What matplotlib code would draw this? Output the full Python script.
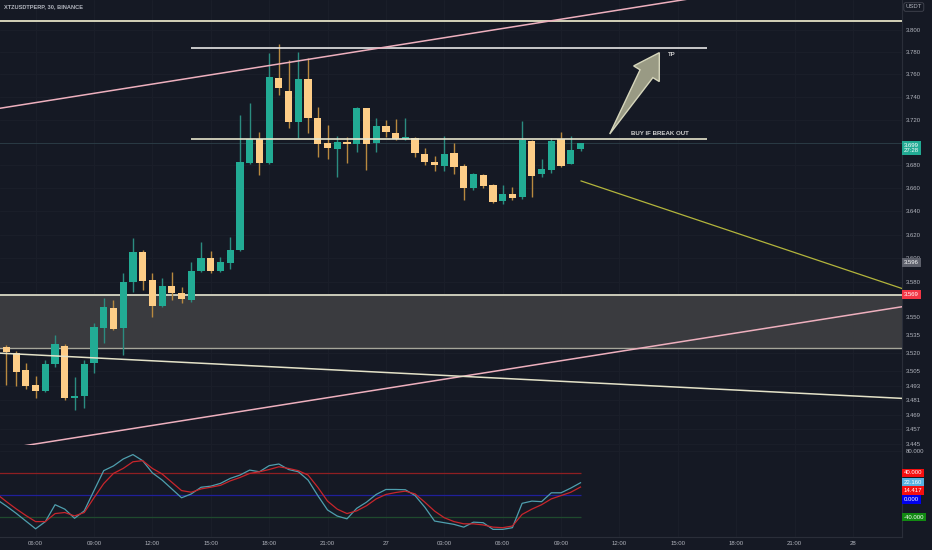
import numpy as np
import matplotlib.pyplot as plt
from matplotlib.patches import Polygon
from matplotlib.transforms import IdentityTransform

plt.rcParams['font.family'] = ['Liberation Sans', 'DejaVu Sans']

BG = '#151924'
GRID = '#1b1f2a'
TXT = '#b2b5be'
UP = '#22ab94'
DOWN = '#fdcd87'
UP_WICK = '#2b8c80'
DOWN_WICK = '#b8893f'

# 30 min bars, bar 0 = 26th 06:00
bars = np.arange(-4, 57)
opens = [3.5334, 3.5253, 3.5198, 3.5059, 3.4934, 3.4887, 3.5109, 3.5262, 3.4830, 3.4847,
         3.5119, 3.5406, 3.5580, 3.5406, 3.5799, 3.6049, 3.5814, 3.5594, 3.5763, 3.5701,
         3.5645, 3.5893, 3.6004, 3.5891, 3.5961, 3.6069, 3.6822, 3.7027, 3.6822, 3.7565,
         3.7454, 3.7181, 3.7556, 3.7211, 3.6997, 3.6942, 3.7003, 3.6983, 3.7299, 3.6992,
         3.7143, 3.7085, 3.7027, 3.7036, 3.6898, 3.6826, 3.6793, 3.6904, 3.6796, 3.6600,
         3.6715, 3.6626, 3.6493, 3.6553, 3.6525, 3.7015, 3.6728, 3.6759, 3.7027, 3.6811,
         3.6939]
highs = [3.5350, 3.5267, 3.5217, 3.5119, 3.5011, 3.5142, 3.5350, 3.5276, 3.5003, 3.5142,
         3.5452, 3.5661, 3.5645, 3.5873, 3.6171, 3.6069, 3.5873, 3.5831, 3.5884, 3.5757,
         3.5969, 3.6140, 3.6063, 3.6012, 3.6183, 3.7243, 3.7349, 3.7094, 3.7788, 3.7871,
         3.7728, 3.7803, 3.7744, 3.7314, 3.7152, 3.7056, 3.7050, 3.7314, 3.7302, 3.7211,
         3.7196, 3.7208, 3.7211, 3.7047, 3.6948, 3.6880, 3.7056, 3.6997, 3.6811, 3.6735,
         3.6724, 3.6637, 3.6629, 3.6608, 3.7184, 3.7021, 3.6852, 3.7038, 3.7094, 3.7056,
         3.6997]
lows = [3.5225, 3.4934, 3.4926, 3.4901, 3.4826, 3.4877, 3.5084, 3.4811, 3.4728, 3.4745,
        3.5034, 3.5284, 3.5392, 3.5183, 3.5715, 3.5729, 3.5504, 3.5586, 3.5645, 3.5617,
        3.5630, 3.5884, 3.5874, 3.5884, 3.5907, 3.6060, 3.6815, 3.6715, 3.6815, 3.7417,
        3.7123, 3.7035, 3.7079, 3.6874, 3.6852, 3.6700, 3.6822, 3.6918, 3.6759, 3.6918,
        3.7050, 3.7021, 3.7021, 3.6874, 3.6802, 3.6753, 3.6753, 3.6724, 3.6498, 3.6585,
        3.6600, 3.6470, 3.6461, 3.6498, 3.6504, 3.6521, 3.6695, 3.6735, 3.6788, 3.6811,
        3.6927]
closes = [3.5267, 3.5211, 3.5045, 3.4929, 3.4887, 3.5109, 3.5273, 3.4825, 3.4847, 3.5109,
          3.5420, 3.5588, 3.5400, 3.5799, 3.6054, 3.5808, 3.5594, 3.5763, 3.5701, 3.5650,
          3.5893, 3.6004, 3.5891, 3.5964, 3.6069, 3.6831, 3.7027, 3.6822, 3.7580, 3.7476,
          3.7181, 3.7556, 3.7211, 3.6983, 3.6953, 3.7003, 3.6983, 3.7299, 3.6983, 3.7143,
          3.7093, 3.7032, 3.7044, 3.6904, 3.6831, 3.6802, 3.6895, 3.6782, 3.6600, 3.6724,
          3.6620, 3.6479, 3.6551, 3.6519, 3.7021, 3.6706, 3.6765, 3.7015, 3.6796, 3.6933,
          3.6990]

# stoch rsi style oscillator (K / D)
osc_k = [-8, -20, -33, -47, -61, -48, -17.5, -25.5, -42, -28.6, 8, 44, 52.5, 65, 73, 62,
         40, 27, 11, -5, 2, 14, 16, 21, 30, 36, 45, 42, 53, 56, 46, 42, 27, -1, -27, -38,
         -43, -24, -13, 1, 10, 10, 9.5, -1, -22, -47, -50, -53, -58, -49, -50, -62, -62,
         -59, -15, -11, -12, 4, 4, 12.5, 22.16]
osc_d = [2, -12, -25, -37, -48, -48, -33.5, -31.6, -37.8, -31.6, -5, 20.6, 39, 48, 60, 62,
         48, 38, 23, 8, 5, 11, 14, 17.5, 25.5, 31.6, 39, 42, 46, 51, 48, 44, 36, 14, -11,
         -25.5, -33.5, -28.6, -19.4, -7, 1, 4.5, 7, 2, -13, -29, -41, -48, -52, -52, -54,
         -58, -59, -56, -35, -25.5, -17.5, -7, -1, 5, 14.417]
osc_levels = [40, 0, -40]
osc_level_colors = ['#8e1f22', '#20209a', '#1f4a2e']

time_ticks = [0, 6, 12, 18, 24, 30, 36, 42, 48, 54, 60, 66, 72, 78, 84]
time_labels = ['06:00', '09:00', '12:00', '15:00', '18:00', '21:00', '27', '03:00',
               '06:00', '09:00', '12:00', '15:00', '18:00', '21:00', '28']
# 3.700 and 3.565 sit under the price boxes, so they are left out
price_ticks = [3.800, 3.780, 3.760, 3.740, 3.720, 3.680, 3.660, 3.640, 3.620, 3.600,
               3.580, 3.550, 3.535, 3.520, 3.505, 3.493, 3.481, 3.469, 3.457, 3.445]

# drawings (bar index, price)
top_line = 3.8081
tp_line = (16, 69, 3.7838)
buy_line = (16, 69, 3.7025)
zone = (3.5240, 3.5690)
pink_up = ((-4, 3.7295), (68, 3.8290))
pink_low = ((-4, 3.4400), (90, 3.5600))
cream_down = ((-4, 3.5200), (90, 3.4820))
olive_down = ((56, 3.6665), (92, 3.5660))
arrow_tail = (59.0, 3.7073)
arrow_tip = (64.1, 3.7794)
last_price = 3.699

fig = plt.figure(figsize=(9.32, 5.5), dpi=100, facecolor=BG)
ax = fig.add_axes([0, 1 - 445 / 550, 902 / 932, 445 / 550])
osc = fig.add_axes([0, 1 - 537 / 550, 902 / 932, 92 / 550], sharex=ax)

for a in (ax, osc):
    a.set_facecolor(BG)
    for s in ('left', 'top'):
        a.spines[s].set_visible(False)
    for s in ('right', 'bottom'):
        a.spines[s].set_color('#2a2e39')
        a.spines[s].set_linewidth(0.8)
    a.yaxis.tick_right()
    a.tick_params(length=0, colors=TXT, labelsize=4.3)
    a.set_xticks(time_ticks)
    a.grid(True, color=GRID, lw=0.6)
    a.set_axisbelow(True)

ax.set_yscale('log')
ax.set_xlim(-3.66, 89.04)
ax.set_ylim(3.44415, 3.82681)
ax.set_yticks(price_ticks)
ax.set_yticks([], minor=True)
ax.set_yticklabels([f'{p:.3f}' for p in price_ticks])
ax.tick_params(axis='y', pad=2.7)
ax.tick_params(axis='x', labelbottom=False)

# zone
ax.axhspan(zone[0], zone[1], facecolor='#3a3b3f', edgecolor='none', zorder=0.6)
ax.axhline(zone[1], color='#d8d8c4', lw=1.3, zorder=1)
ax.axhline(zone[0], color='#a6a69a', lw=1.0, zorder=1)

# current price line
ax.axhline(last_price, color='#2a3b44', lw=0.7, zorder=0.8)

# candles
opens = np.array(opens)
closes = np.array(closes)
up = closes >= opens
body_col = np.where(up, UP, DOWN)
wick_col = np.where(up, UP_WICK, DOWN_WICK)
ax.vlines(bars, lows, highs, colors=wick_col, lw=1.0, zorder=2)
bottoms = np.minimum(opens, closes)
heights = np.maximum(np.abs(closes - opens), 0.0008)
ax.bar(bars, heights, bottom=bottoms, width=0.74, color=body_col, zorder=3)

# drawings
ax.axhline(top_line, color='#e2e0c4', lw=1.3, zorder=4)
ax.hlines(tp_line[2], tp_line[0], tp_line[1], color='#e6e6e6', lw=1.2, zorder=4)
ax.hlines(buy_line[2], buy_line[0], buy_line[1], color='#e6e4cc', lw=1.2, zorder=4)
for seg, col in ((pink_up, '#eeb0be'), (pink_low, '#eeb0be'),
                 (cream_down, '#e4e2c8'), (olive_down, '#b3b53c')):
    ax.plot([seg[0][0], seg[1][0]], [seg[0][1], seg[1][1]], color=col,
            lw=1.1 if col != '#b3b53c' else 0.9, zorder=4, solid_capstyle='butt')

ax.text(65, 3.7776, 'TP', color='#cfcfcf', fontsize=4.4, fontweight='bold',
        ha='left', va='center', zorder=6)
ax.text(64.2, 3.7079, 'BUY IF BREAK OUT', color='#cfcfcf', fontsize=4.4,
        fontweight='bold', ha='center', va='center', zorder=6)

# arrow polygon built in pixel space from tail/tip
t = ax.transData.transform(arrow_tail)
h = ax.transData.transform(arrow_tip)
u = (h - t) / np.hypot(*(h - t))
n = np.array([-u[1], u[0]])
base = h - u * 24.7
pts = [t, base + n * 7.5, base + n * 15, h, base - n * 15, base - n * 7.5]
ax.add_patch(Polygon(pts, closed=True, facecolor='#999a84', edgecolor='#d6d6bc',
                     lw=1.0, transform=IdentityTransform(), zorder=5))

# price axis boxes
def axis_box(a, val, label, fc, tc='white', dy=0.0):
    a.annotate(label, xy=(1.0, val), xycoords=('axes fraction', 'data'),
               xytext=(1.4, dy), textcoords='offset points', ha='left', va='center',
               fontsize=4.3, color=tc, linespacing=1.05, annotation_clip=False,
               bbox=dict(boxstyle='square,pad=0.3', fc=fc, ec='none'), zorder=10)

axis_box(ax, last_price, '3.699\n27:28', UP, dy=-3.0)
axis_box(ax, 3.596, '3.596', '#5d606b')
axis_box(ax, 3.569, '3.569', '#f23645')

# oscillator pane
osc.set_ylim(-75.8, 90.3)
osc.set_yticks([80])
osc.set_yticklabels(['80.000'])
osc.tick_params(axis='y', pad=2.7)
osc.tick_params(axis='x', pad=3.2)
osc.set_xticklabels(time_labels)
osc.hlines(osc_levels, bars[0], bars[-1], colors=osc_level_colors, lw=0.9, zorder=2)
osc.plot(bars, osc_k, color='#4f9fae', lw=0.9, zorder=3)
osc.plot(bars, osc_d, color='#c8262c', lw=0.9, zorder=3)

osc_box_vals = [40, 22.16, 14.417, 0, -40]
osc_box_cols = ['#f50f0f', '#55b2e0', '#f50f0f', '#0000ee', '#128a12']
osc_box_dy = [0, 0.3, -2.6, -3.1, 0]
for v, c, dy in zip(osc_box_vals, osc_box_cols, osc_box_dy):
    axis_box(osc, v, f'{v:.3f}', c, dy=dy)

# header texts
fig.text(4 / 932, 1 - 7 / 550, 'XTZUSDTPERP, 30, BINANCE', color=TXT, fontsize=4.1,
         fontweight='bold', ha='left', va='center')
fig.text(922 / 932, 1 - 7 / 550, 'USDT', color=TXT, fontsize=4.3, ha='right', va='center',
         bbox=dict(boxstyle='round,pad=0.3', fc=BG, ec='#434651', lw=0.6))

fig.savefig('out.png', dpi=100, facecolor=BG)
